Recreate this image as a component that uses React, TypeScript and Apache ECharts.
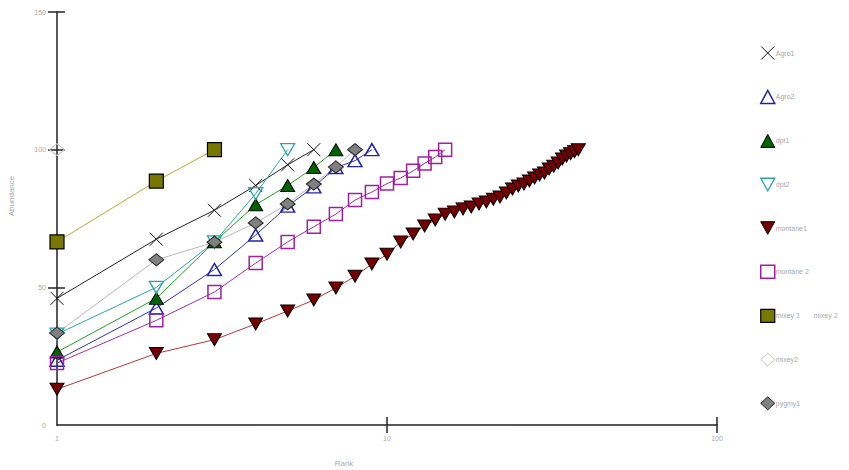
import React, { useEffect, useRef } from "react";
import * as echarts from "echarts";

// ---- data (cumulative abundance by rank; ranks are 1..n) ----
const seriesNames = [
  "Agro1",
  "Agro2",
  "dpt1",
  "dpt2",
  "montane1",
  "montane 2",
  "mixey 1       mixey 2",
  "mixey2",
  "pygmy1",
];
const agro1 = [46, 67.5, 78, 87, 94.5, 100];
const agro2 = [23.5, 42.5, 56.5, 69, 79.5, 86.5, 93.5, 96, 100];
const dpt1 = [26.5, 46, 66.5, 80, 87, 93.5, 100];
const dpt2 = [33, 50, 66.5, 84, 100];
const montane1 = [
  13, 26, 31, 36.7, 41.4, 45.4, 49.8, 54, 58.5, 62, 66.5, 69.4, 72.3, 74.5, 76.6,
  77.4, 78.5, 79.2, 80.3, 81, 82, 82.8, 84.3, 85.7, 86.8, 87.5, 88.6, 89.7, 90.8,
  91.5, 93, 94, 95.2, 96.6, 97.7, 98.5, 99.3, 100,
];
const montane2 = [22.5, 38, 48.3, 58.8, 66.5, 72, 76.6, 81.7, 84.6, 87.7, 89.7, 92.3, 95, 97.3, 100];
const mixey1 = [66.5, 88.6, 100];
const mixey2 = [100];
const pygmy1 = [33.4, 60, 66.4, 73.4, 80.3, 87.5, 93.7, 100];
const allValues = [agro1, agro2, dpt1, dpt2, montane1, montane2, mixey1, mixey2, pygmy1];

const yTickValues = [50, 100, 150];
const xTickValues = [10, 100];
const xTitle = "Rank";
const yTitle = "Abundance";

// ---- styles ----
const X_SYM = "path://M0,0L10,10M10,0L0,10";
const INV_TRI = "path://M0,0L10,0L5,9Z";
const styles = [
  { symbol: X_SYM, size: 13, fill: "rgba(0,0,0,0)", border: "#111", bw: 1, line: "#222" },
  { symbol: "triangle", size: [14, 12], fill: "rgba(0,0,0,0)", border: "#2424a4", bw: 1.5, line: "#3232b2" },
  { symbol: "triangle", size: [14, 12], fill: "#006400", border: "#000", bw: 1, line: "#22a022" },
  { symbol: INV_TRI, size: [14, 12], fill: "rgba(0,0,0,0)", border: "#2aa6a6", bw: 1.3, line: "#2aa6a6" },
  { symbol: INV_TRI, size: [14, 12], fill: "#760000", border: "#000", bw: 1, line: "#b03a3a" },
  { symbol: "rect", size: 13, fill: "rgba(0,0,0,0)", border: "#a020a0", bw: 1.5, line: "#a030a0" },
  { symbol: "rect", size: 14, fill: "#787800", border: "#000", bw: 1.2, line: "#b0b030" },
  { symbol: "diamond", size: [15, 12], fill: "rgba(0,0,0,0)", border: "#c4c4c4", bw: 1, line: "#c4c4c4" },
  { symbol: "diamond", size: [15, 12], fill: "#808080", border: "#222", bw: 1, line: "#b8b8b8" },
];

const FONT = "Liberation Sans";
const TXT = "#a8a8a8";
const AX = "#222";

export default function App() {
  const ref = useRef<HTMLDivElement>(null);
  useEffect(() => {
    if (!ref.current) return;
    const chart = echarts.init(ref.current, null, { renderer: "svg" });
    const series = allValues.map((vals, i) => ({
      name: seriesNames[i],
      type: "line",
      xAxisIndex: 0,
      yAxisIndex: 0,
      clip: false,
      data: vals.map((v, k) => [k + 1, v]),
      symbol: styles[i].symbol,
      symbolSize: styles[i].size,
      showAllSymbol: true,
      itemStyle: { color: styles[i].fill, borderColor: styles[i].border, borderWidth: styles[i].bw },
      lineStyle: { color: styles[i].line, width: 1 },
      emphasis: { disabled: true },
    }));
    const option: any = {
      animation: false,
      grid: { left: 57, right: 132, top: 12, bottom: 45, containLabel: false },
      xAxis: [
        {
          type: "log",
          logBase: 10,
          min: 1,
          max: 100,
          position: "bottom",
          axisLine: { show: true, lineStyle: { color: AX, width: 1.5 } },
          axisTick: { show: true, inside: false, length: 8, customValues: xTickValues, lineStyle: { color: AX, width: 1.5 } },
          axisLabel: { color: TXT, fontSize: 7, fontFamily: FONT, margin: 10 },
          splitLine: { show: false },
          minorTick: { show: false },
        },
        {
          type: "log",
          logBase: 10,
          min: 1,
          max: 100,
          position: "bottom",
          axisLine: { show: false },
          axisTick: { show: true, inside: true, length: 8, customValues: xTickValues, lineStyle: { color: AX, width: 1.5 } },
          axisLabel: { show: false },
          splitLine: { show: false },
        },
      ],
      yAxis: [
        {
          type: "value",
          min: 0,
          max: 150,
          interval: 50,
          position: "left",
          axisLine: { show: true, lineStyle: { color: AX, width: 1.5 } },
          axisTick: { show: true, inside: false, length: 9, customValues: yTickValues, lineStyle: { color: AX, width: 1.5 } },
          axisLabel: { color: TXT, fontSize: 7, fontFamily: FONT, margin: 11 },
          splitLine: { show: false },
        },
        {
          type: "value",
          min: 0,
          max: 150,
          interval: 50,
          position: "left",
          axisLine: { show: false },
          axisTick: { show: true, inside: true, length: 8, customValues: yTickValues, lineStyle: { color: AX, width: 1.5 } },
          axisLabel: { show: false },
          splitLine: { show: false },
        },
      ],
      legend: {
        orient: "vertical",
        left: 755,
        top: 41,
        itemWidth: 14,
        itemHeight: 13,
        itemGap: 29.7,
        selectedMode: false,
        textStyle: { color: TXT, fontSize: 7, fontFamily: FONT, padding: [0, 0, 0, -4] },
        data: seriesNames.map((n, i) => ({
          name: n,
          icon: styles[i].symbol,
          itemStyle: { color: styles[i].fill, borderColor: styles[i].border, borderWidth: styles[i].bw },
          textStyle: { color: TXT },
        })),
      },
      graphic: [
        {
          type: "text",
          x: 11,
          y: 196,
          rotation: Math.PI / 2,
          style: { text: yTitle, fill: TXT, fontSize: 8, fontFamily: FONT, textAlign: "center", textVerticalAlign: "middle" },
        },
        {
          type: "text",
          x: 344,
          y: 463,
          style: { text: xTitle, fill: TXT, fontSize: 8, fontFamily: FONT, textAlign: "center", textVerticalAlign: "middle" },
        },
      ],
      series,
    };
    chart.setOption(option);
    return () => chart.dispose();
  }, []);
  return <div ref={ref} style={{ position: "absolute", left: 0, top: 0, width: 849, height: 470 }} />;
}
